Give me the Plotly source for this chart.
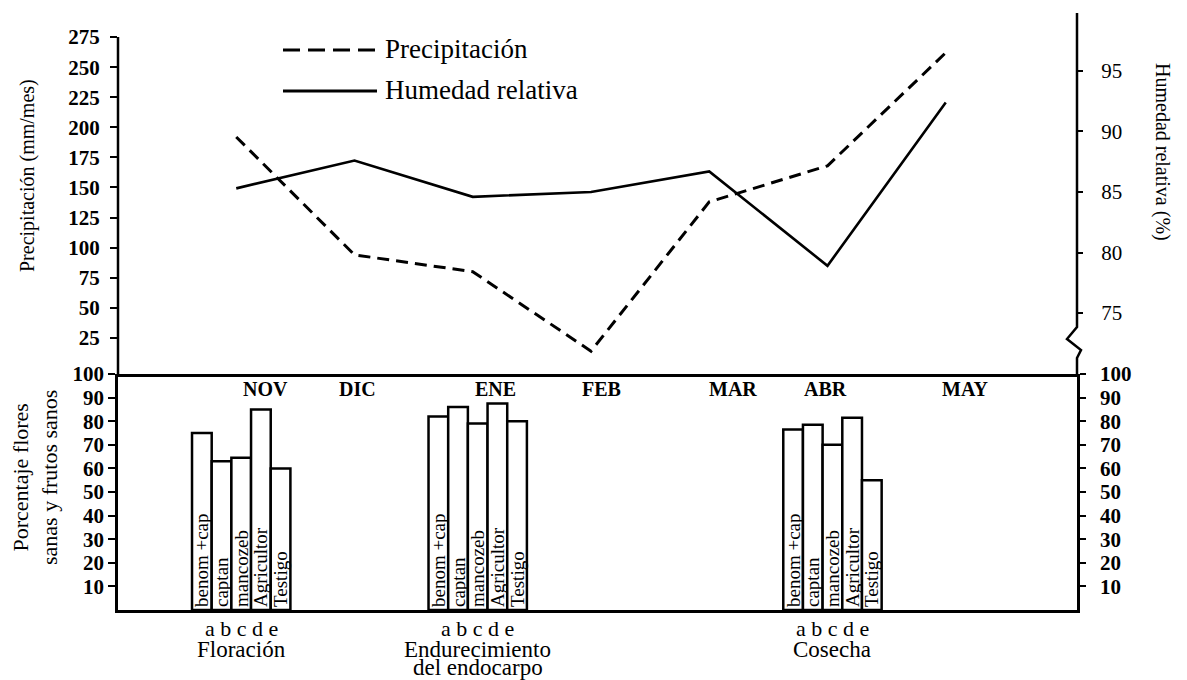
import plotly.graph_objects as go

# ---------------- data ----------------
months = ["NOV", "DIC", "ENE", "FEB", "MAR", "ABR", "MAY"]
month_idx = [0, 1, 2, 3, 4, 5, 6]
precipitacion = [192, 94, 80, 14, 138, 168, 262]          # mm/mes
humedad = [85.3, 87.6, 84.6, 85.0, 86.7, 78.9, 92.4]      # %

fases = ["Floración", "Endurecimiento<br>del endocarpo", "Cosecha"]
fase_mes = [0, 2, 5]
letras = ["a", "b", "c", "d", "e"]
tratamientos = ["benom +cap", "captan", "mancozeb", "Agricultor", "Testigo"]
sanos_floracion = [75, 63, 64.5, 85, 60]
sanos_endurecimiento = [82, 86, 79, 87.5, 80]
sanos_cosecha = [76.5, 78.5, 70, 81.5, 55]

precip_ticks = list(range(25, 276, 25))
hum_ticks = [75, 80, 85, 90, 95]
pct_ticks = list(range(10, 101, 10))

# ---------------- layout helpers ----------------
# page body has an 8px default margin: figure pixel = screen pixel - 8
OFF = 8
W, H = 1187 - OFF, 680 - OFF
L, R, T, B = 118, 1077, 13, 610          # screen pixels of the plot area
SEP = 374
FONT = "Liberation Serif, Times New Roman, serif"


def px(xp):
    return (xp - L) / (R - L)


def py(yp):
    return (B - yp) / (B - T)


split = py(SEP)
XR = [-1.0, 7.11]
XR2 = [-1.042, 7.068]   # lower panel, bars drawn a few pixels to the right

fig = go.Figure()

fig.add_trace(go.Scatter(
    x=month_idx, y=precipitacion, name="Precipitación", mode="lines",
    line=dict(color="black", width=3, dash="12px,7px"),
    xaxis="x", yaxis="y", showlegend=False))
fig.add_trace(go.Scatter(
    x=month_idx, y=humedad, name="Humedad relativa", mode="lines",
    line=dict(color="black", width=2.6),
    xaxis="x", yaxis="y2", showlegend=False))

for i, name in enumerate(tratamientos):
    vals = [sanos_floracion[i], sanos_endurecimiento[i], sanos_cosecha[i]]
    fig.add_trace(go.Bar(
        x=fase_mes, y=vals, name=name, text=[name] * len(vals),
        textposition="inside", insidetextanchor="start", textangle=-90,
        constraintext="none",
        insidetextfont=dict(family=FONT, size=19, color="black"),
        marker=dict(color="white", line=dict(color="black", width=2.5)),
        xaxis="x2", yaxis="y3", showlegend=False))

fig.add_trace(go.Scatter(x=[None], y=[None], xaxis="x2", yaxis="y4",
                         showlegend=False, hoverinfo="skip"))

axcommon = dict(showgrid=False, zeroline=False, ticks="outside",
                tickcolor="black", tickwidth=2, automargin=False)

fig.update_layout(
    template="none",
    width=W, height=H,
    margin=dict(l=L - OFF, r=W - (R - OFF), t=T - OFF, b=H - (B - OFF),
                pad=0, autoexpand=False),
    paper_bgcolor="white", plot_bgcolor="white",
    barmode="group", bargap=0.584, bargroupgap=0,
    font=dict(family=FONT, color="black"),
    xaxis=dict(domain=[0, 1], range=XR, anchor="y", showgrid=False,
               zeroline=False, showticklabels=False, ticks="",
               automargin=False,
               showline=True, linecolor="black", linewidth=2.5),
    xaxis2=dict(domain=[0, 1], range=XR2, anchor="y3", showgrid=False,
                zeroline=False, showticklabels=False, ticks="",
                automargin=False,
                showline=True, linecolor="black", linewidth=2.5),
    yaxis=dict(domain=[split, 1], range=[-5, 295], tickvals=precip_ticks,
               ticklen=7, showline=False, ticklabelstandoff=6,
               tickfont=dict(size=21, weight="bold"), **axcommon),
    yaxis2=dict(domain=[split, 1], range=[69.96, 99.79], overlaying="y",
                side="right", tickvals=hum_ticks, ticklen=5, showline=False,
                ticklabelstandoff=14, anchor="x",
                tickfont=dict(size=21), **axcommon),
    yaxis3=dict(domain=[0, split], range=[0, 100], tickvals=pct_ticks,
                ticklen=7, anchor="x2", showline=True, linecolor="black",
                linewidth=2.5, tickfont=dict(size=21, weight="bold"),
                **axcommon),
    yaxis4=dict(domain=[0, split], range=[0, 100], tickvals=pct_ticks,
                ticklen=6, anchor="x2", overlaying="y3", side="right",
                showline=True, linecolor="black", linewidth=2.5,
                ticklabelstandoff=10,
                tickfont=dict(size=21, weight="bold"), **axcommon),
)

shapes = []
# left axis of upper panel (from 275 down to the separator)
shapes.append(dict(type="line", xref="paper", yref="y", x0=0, x1=0,
                   y0=-5, y1=precip_ticks[-1],
                   line=dict(color="black", width=2.5)))
# right axis of upper panel with break mark
path = (f"M {px(R)},{py(T)} L {px(R)},{py(327)} L {px(R-10)},{py(339)} "
        f"L {px(R+4)},{py(350)} L {px(R)},{py(358)} L {px(R)},{py(SEP)}")
shapes.append(dict(type="path", xref="paper", yref="paper", path=path,
                   line=dict(color="black", width=2.5)))
# legend samples
shapes.append(dict(type="line", xref="paper", yref="paper",
                   x0=px(283), x1=px(377), y0=py(50), y1=py(50),
                   line=dict(color="black", width=3.2, dash="17px,8px")))
shapes.append(dict(type="line", xref="paper", yref="paper",
                   x0=px(283), x1=px(377), y0=py(91), y1=py(91),
                   line=dict(color="black", width=3.2)))
fig.update_layout(shapes=shapes)

ann = []
# legend texts
for yy, name in [(49, fig.data[0].name), (90, fig.data[1].name)]:
    ann.append(dict(xref="paper", yref="paper", x=px(383), y=py(yy),
                    text=name, showarrow=False, xanchor="left",
                    yanchor="middle", font=dict(size=27)))
# month labels
month_label_x = [0.245, 1.023, 2.19, 3.09, 4.2, 4.98, 6.16]
for xm, m in zip(month_label_x, months):
    ann.append(dict(xref="x", yref="paper", x=xm, y=py(389), text=m,
                    showarrow=False, xanchor="center", yanchor="middle",
                    font=dict(size=20, weight="bold")))
# group labels
for xm, fase in zip(fase_mes, fases):
    ann.append(dict(xref="x2", yref="paper", x=xm, y=py(628),
                    text=" ".join(letras), showarrow=False,
                    xanchor="center", yanchor="middle", font=dict(size=22)))
    for k, line in enumerate(fase.split("<br>")):
        ann.append(dict(xref="x2", yref="paper", x=xm, y=py(649 + 19 * k),
                        text=line, showarrow=False, xanchor="center",
                        yanchor="middle", font=dict(size=23)))
# axis titles
ann.append(dict(xref="paper", yref="paper", x=px(27), y=py(176),
                text="Precipitación (mm/mes)", textangle=-90, showarrow=False,
                xanchor="center", yanchor="middle", font=dict(size=20)))
ann.append(dict(xref="paper", yref="paper", x=px(1163), y=py(152),
                text="Humedad relativa (%)", textangle=90, showarrow=False,
                xanchor="center", yanchor="middle", font=dict(size=20)))
ann.append(dict(xref="paper", yref="paper", x=px(35), y=py(478),
                text="Porcentaje flores<br>sanas y frutos sanos",
                textangle=-90, showarrow=False,
                xanchor="center", yanchor="middle", font=dict(size=22)))
fig.update_layout(annotations=ann)

fig.write_html("out.html")
